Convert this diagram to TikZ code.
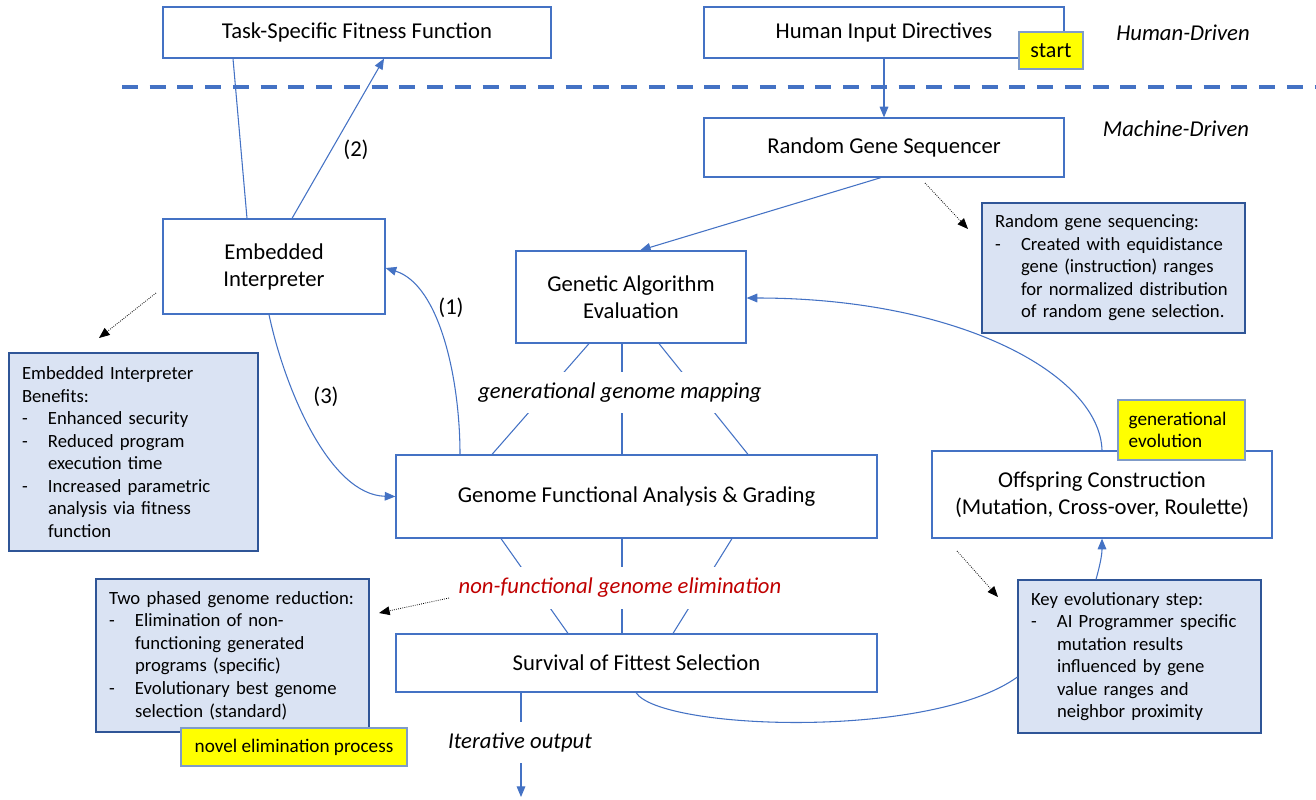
\documentclass[tikz,border=0pt]{standalone}
\usepackage{fontspec}
\setmainfont{Carlito}
\usetikzlibrary{arrows.meta}
\definecolor{obl}{HTML}{4472C4}
\definecolor{notefill}{HTML}{DAE3F3}
\definecolor{notedraw}{HTML}{2F5597}
\definecolor{ylw}{HTML}{FFFF00}
\definecolor{ylwdraw}{HTML}{7F9BC8}
\definecolor{redtxt}{HTML}{C00000}
\tikzset{
  mainbox/.style={draw=obl, line width=0.9pt, fill=white, align=center, inner sep=0pt,
    font=\fontsize{17}{20.25}\selectfont},
  notebox/.style={draw=notedraw, line width=0.9pt, fill=notefill, align=left, inner xsep=9.75pt, inner ysep=0pt,
    font=\fontsize{14}{16.9}\selectfont},
  tagbox/.style={draw=ylwdraw, line width=0.9pt, fill=ylw, align=left, inner sep=0pt,
    font=\fontsize{14.4}{16.9}\selectfont},
  conn/.style={draw=obl, line width=0.8pt},
  arr/.style={conn, -{Triangle[length=8pt,width=6.5pt]}},
  dotarr/.style={draw=black, line width=0.6pt, densely dotted, -{Triangle[length=8pt,width=6.5pt]}},
  lbl/.style={font=\fontsize{17}{20.25}\selectfont, inner sep=0pt},
  ilbl/.style={font=\fontsize{17}{20.25}\selectfont\itshape, inner sep=0pt},
  cover/.style={fill=white, inner xsep=0pt}
}
\newcommand{\bul}{\makebox[19.5pt][l]{-}}
\newcommand{\ind}{\hspace*{19.5pt}}
\begin{document}
\begin{tikzpicture}[x=0.75pt,y=-0.75pt]
\useasboundingbox (0,0) rectangle (1316,799);

% separator
\draw[draw=obl, line width=3.5pt, dash pattern=on 12pt off 8.8pt] (122,87) -- (1316,87);

% main boxes
\node[mainbox, minimum width=291pt, minimum height=38.25pt] (task) at (357,32.5) {Task-Specific Fitness Function};
\node[mainbox, minimum width=270pt, minimum height=38.25pt] (hid) at (884,32.5) {Human Input Directives};
\node[tagbox, minimum width=48pt, minimum height=27.75pt, align=center, font=\fontsize{16.5}{19}\selectfont] (start) at (1051,50.5) {start};
\node[mainbox, minimum width=270pt, minimum height=44.25pt] (rgs) at (884,147.5) {Random Gene Sequencer};
\node[mainbox, minimum width=166.5pt, minimum height=71.25pt] (emb) at (274,266.5) {Embedded\\Interpreter};
\node[mainbox, minimum width=172.5pt, minimum height=69pt] (gae) at (631,297) {Genetic Algorithm\\Evaluation};
\node[mainbox, minimum width=360.75pt, minimum height=62.25pt] (gfa) at (636.5,496.5) {Genome Functional Analysis \& Grading};
\node[mainbox, minimum width=360.75pt, minimum height=43.5pt] (sur) at (636.5,663) {Survival of Fittest Selection};
\node[mainbox, minimum width=255pt, minimum height=65.25pt] (off) at (1102,494.5) {Offspring Construction\\(Mutation, Cross-over, Roulette)};
\node[tagbox, minimum width=95.25pt, minimum height=45pt, inner xsep=8pt, text width=79.25pt] (genevo) at (1181.5,430) {generational\\evolution};

% notes
\node[notebox, minimum width=197.25pt, minimum height=97.5pt, text width=177.75pt] (nrgs) at (1113.5,268)
 {Random gene sequencing:\\\bul Created with equidistance\\\ind gene (instruction) ranges\\\ind for normalized distribution\\\ind of random gene selection.};
\node[notebox, minimum width=186.75pt, minimum height=148.5pt, text width=167.25pt] (nemb) at (133.5,452)
 {Embedded Interpreter\\Benefits:\\\bul Enhanced security\\\bul Reduced program\\\ind execution time\\\bul Increased parametric\\\ind analysis via fitness\\\ind function};
\node[notebox, minimum width=204.75pt, minimum height=114.75pt, text width=185.25pt] (ntwo) at (232.5,655.5)
 {Two phased genome reduction:\\\bul Elimination of non-\\\ind functioning generated\\\ind programs (specific)\\\bul Evolutionary best genome\\\ind selection (standard)};
\node[tagbox, minimum width=169.5pt, minimum height=28.5pt, align=center] (novel) at (294,747) {novel elimination process};
\node[notebox, minimum width=182.25pt, minimum height=114.75pt, text width=162.75pt] (nkey) at (1139.5,656.5)
 {Key evolutionary step:\\\bul AI Programmer specific\\\ind mutation results\\\ind influenced by gene\\\ind value ranges and\\\ind neighbor proximity};

% side labels
\node[ilbl] (hd) at (1183,33) {Human-Driven};
\node[ilbl] (md) at (1176,129) {Machine-Driven};

% connectors top
\draw[conn] (task.south -| 233,0) -- (emb.north -| 247,0);
\draw[arr] (emb.north -| 292,0) -- (task.south -| 384,0);
\node[lbl] (l2) at (356,150) {(2)};
\draw[arr] (hid.south) -- (rgs.north);
\draw[arr] (rgs.south -| 881,0) -- (gae.north -| 640,0);
\draw[arr] (gfa.north -| 460,0) .. controls (460,380) and (440,285) .. (emb.east |- 0,268);
\node[lbl] (l1) at (451,308) {(1)};
\draw[arr] (emb.south -| 269,0) .. controls (285,390) and (330,495) .. (gfa.west);
\node[lbl] (l3) at (326,397) {(3)};
\draw[arr] (off.north -| 1102,0) .. controls (1100,375) and (960,298) .. (gae.east |- 0,298);
\draw[arr] (nkey.north -| 1096,0) .. controls (1100,565) and (1102,555) .. (off.south -| 1102,0);
\draw[conn] (sur.south -| 636,0) .. controls (660,730) and (930,740) .. (nkey.west |- 0,677);

% mapping lines
\draw[conn] (gae.south -| 589,0) -- (gfa.north -| 492,0);
\draw[conn] (gae.south -| 622,0) -- (gfa.north -| 622,0);
\draw[conn] (gae.south -| 659,0) -- (gfa.north -| 748,0);
\node[ilbl, cover, minimum height=30.75pt] (map) at (620,392.5) {generational genome mapping};

\draw[conn] (gfa.south -| 501,0) -- (sur.north -| 568,0);
\draw[conn] (gfa.south -| 622,0) -- (sur.north -| 622,0);
\draw[conn] (gfa.south -| 732,0) -- (sur.north -| 673,0);
\node[ilbl, cover, minimum height=31.5pt, text=redtxt] (elim) at (620,588) {non-functional genome elimination};

% iterative output
\coordinate (outend) at (521,797);
\draw[arr] (sur.south -| 521,0) -- (outend);
\node[ilbl, cover, minimum height=30.75pt] (iter) at (520,742.5) {Iterative output};

% dotted pointers
\coordinate (d1s) at (156,293); \coordinate (d1e) at (99,338);
\coordinate (d2s) at (925,183); \coordinate (d2e) at (968,229);
\coordinate (d3s) at (449,598); \coordinate (d3e) at (379,613);
\coordinate (d4s) at (957,551); \coordinate (d4e) at (998,597);
\draw[dotarr] (d1s) -- (d1e);
\draw[dotarr] (d2s) -- (d2e);
\draw[dotarr] (d3s) -- (d3e);
\draw[dotarr] (d4s) -- (d4e);
\end{tikzpicture}
\end{document}
